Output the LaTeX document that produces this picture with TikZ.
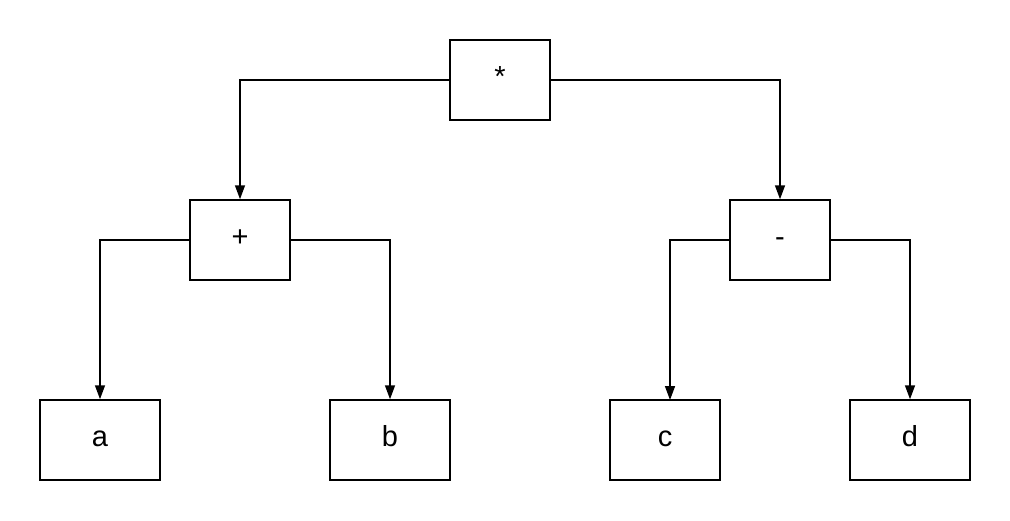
\documentclass[tikz,border=0pt]{standalone}
\usepackage{fontspec}
\setmainfont{Liberation Sans}
\usetikzlibrary{arrows.meta}
\begin{document}
\begin{tikzpicture}[x=1pt,y=-1pt,
  box/.style={draw,line width=1.5pt,minimum width=#1,minimum height=80pt,inner sep=0pt,
    text height=21pt,text depth=9pt,font=\fontsize{29}{33}\selectfont},
  box/.default=100pt,
  conn/.style={line width=1.5pt,-{Triangle[length=14pt,width=10pt]}}]
\useasboundingbox (0,0) rectangle (1010,520);
\node[box] (mul) at (500,80) {*};
\node[box] (plus) at (240,240) {+};
\node[box] (minus) at (780,240) {-};
\node[box=120pt] (a) at (100,440) {a};
\node[box=120pt] (b) at (390,440) {b};
\node[box=110pt] (c) at (665,440) {c};
\node[box=120pt] (d) at (910,440) {d};
\coordinate (ctop) at (670,400);
\draw[conn] (mul.west) -| (plus.north);
\draw[conn] (mul.east) -| (minus.north);
\draw[conn] (plus.west) -| (a.north);
\draw[conn] (plus.east) -| (b.north);
\draw[conn] (minus.west) -| (ctop);
\draw[conn] (minus.east) -| (d.north);
\end{tikzpicture}
\end{document}
